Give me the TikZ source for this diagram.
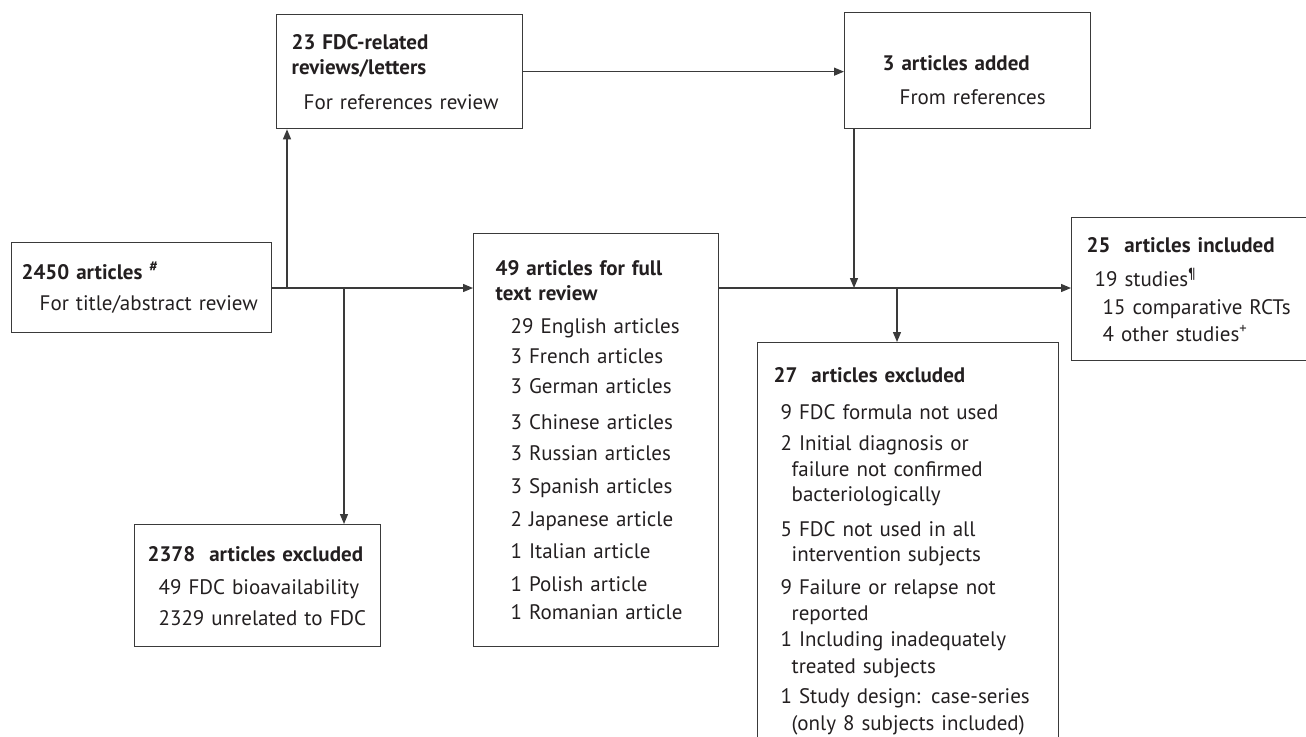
\documentclass[tikz,border=0pt]{standalone}
\usepackage{fontspec}
\setmainfont{PT Sans}
\usepackage{tikz}
\usetikzlibrary{arrows.meta}
\definecolor{inkgray}{HTML}{231F20}
\definecolor{linegray}{HTML}{3A3A3A}

\begin{document}
\begin{tikzpicture}[x=1pt, y=-1pt, >={Triangle[length=10pt, width=8pt]},
    box/.style={draw=linegray, line width=1.3pt, anchor=north west, align=left,
        inner ysep=0pt, text=inkgray, font=\fontsize{21}{25}\selectfont},
    link/.style={draw=linegray, line width=1.3pt}]
    \useasboundingbox (0,0) rectangle (1306,736);

    \node[box, text width=244pt, inner xsep=8pt, minimum height=90pt] (n2450) at (11,242)
        {\hspace*{2pt}\textbf{2450 articles \textsuperscript{\#}}\\[6pt]
         \hspace*{20pt}For title/abstract review};
    \node[box, text width=222pt, inner xsep=12pt, minimum height=114pt] (n23) at (276,14)
        {\hspace*{3pt}\textbf{23 FDC-related}\\
         \hspace*{3pt}\textbf{reviews/letters}\\[10pt]
         \hspace*{15pt}For references review};
    \node[box, text width=170pt, inner xsep=38pt, minimum height=116pt] (n3) at (844,12)
        {\rule{0pt}{33pt}\textbf{3 articles added}\\[9pt]
         \hspace*{17pt}From references};
    \node[box, text width=201pt, inner xsep=22pt, minimum height=413pt] (n49) at (473,233)
        {\textbf{49 articles for full}\\
         \textbf{text review}\\[8pt]
         \hspace*{15pt}29 English articles\\[5pt]
         \hspace*{15pt}3 French articles\\[5pt]
         \hspace*{15pt}3 German articles\\[11pt]
         \hspace*{15pt}3 Chinese articles\\[6pt]
         \hspace*{15pt}3 Russian articles\\[8pt]
         \hspace*{15pt}3 Spanish articles\\[8pt]
         \hspace*{15pt}2 Japanese article\\[7pt]
         \hspace*{15pt}1 Italian article\\[8pt]
         \hspace*{15pt}1 Polish article\\[3pt]
         \hspace*{15pt}1 Romanian article};
    \node[box, text width=230pt, inner xsep=8pt, minimum height=122pt] (n2378) at (134,524)
        {\hspace*{5pt}\textbf{2378~~articles excluded}\\[8pt]
         \hspace*{16pt}49 FDC bioavailability\\[6pt]
         \hspace*{16pt}2329 unrelated to FDC};
    \node[box, text width=281pt, inner xsep=10pt, minimum height=418pt] (n27) at (757,342)
        {\hspace*{6pt}\textbf{27~~articles excluded}\\[12pt]
         \hspace*{13pt}9 FDC formula not used\\[6pt]
         \hspace*{13pt}2 Initial diagnosis or\\[1pt]
         \hspace*{24pt}failure not confirmed\\
         \hspace*{24pt}bacteriologically\\[10pt]
         \hspace*{13pt}5 FDC not used in all\\
         \hspace*{24pt}intervention subjects\\[8pt]
         \hspace*{13pt}9 Failure or relapse not\\[1pt]
         \hspace*{24pt}reported\\[1pt]
         \hspace*{13pt}1 Including inadequately\\[2pt]
         \hspace*{24pt}treated subjects\\[5pt]
         \hspace*{13pt}1 Study design: case-series\\[2pt]
         \hspace*{24pt}(only 8 subjects included)};
    \node[box, text width=220pt, inner xsep=15pt, minimum height=143pt] (n25) at (1071,217)
        {\textbf{25~~articles included}\\[9pt]
         \hspace*{8pt}19 studies\textsuperscript{¶}\\[3pt]
         \hspace*{16pt}15 comparative RCTs\\[2pt]
         \hspace*{16pt}4 other studies\textsuperscript{+}};

    \coordinate (split) at (287,288);
    \coordinate (drop) at (344,288);
    \coordinate (merge) at (854,288);
    \coordinate (branch) at (897,288);

    \draw[link, ->] (n2450.east |- split) -- (n49.west |- split);
    \draw[link, ->] (split) -- (n23.south -| split);
    \draw[link, ->] (drop) -- (n2378.north -| drop);
    \draw[link, ->] (n23.east) -- (n23.east -| n3.west);
    \draw[link, ->] (n3.south -| merge) -- (merge);
    \draw[link, ->] (merge -| n49.east) -- (n25.west |- merge);
    \draw[link, ->] (branch) -- (n27.north -| branch);
\end{tikzpicture}
\end{document}
